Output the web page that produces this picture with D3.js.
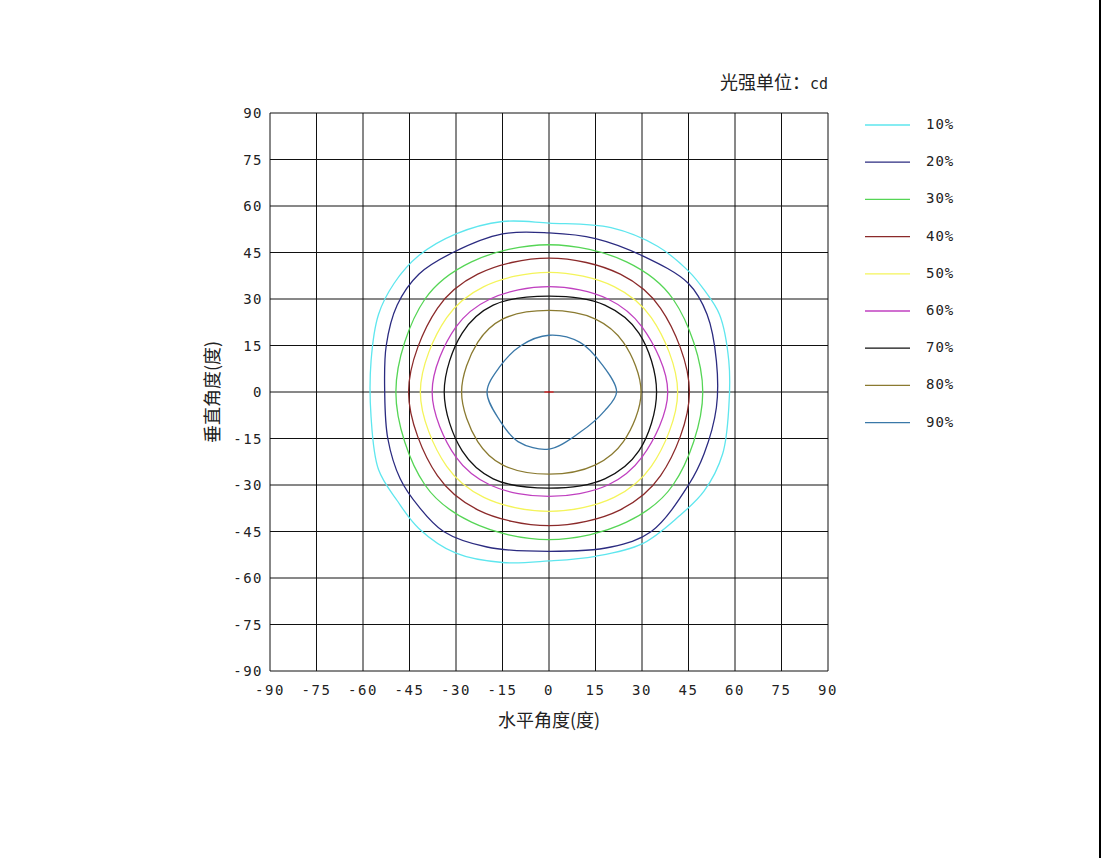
<!DOCTYPE html>
<html><head><meta charset="utf-8">
<script src="https://cdn.jsdelivr.net/npm/d3@7"></script>
<style>body{margin:0;background:#fff}text{font-family:"DejaVu Sans Mono",monospace;font-size:14px;fill:#222}</style>
</head><body><svg id="c" width="1102" height="858"></svg>
<script>
var ticks = [-90,-75,-60,-45,-30,-15,0,15,30,45,60,75,90];
var levels = ["10%","20%","30%","40%","50%","60%","70%","80%","90%"];
var colors = ["#5ee6ee","#2b2b80","#55d555","#8b2a2a","#f4f45a","#c040c0","#111111","#8a7a30","#3a78a8"];
var c10 = [[0,54.5],[-15,55],[-30,51],[-42,44],[-50,35],[-55,25],[-57.4,10],[-57.4,-8],[-55,-25],[-49,-35],[-42,-44],[-30,-52],[-15,-55],[0,-54.5],[15,-53],[30,-49],[42,-40],[50,-32],[56,-20],[58,-5],[58,10],[55,25],[50,33],[45,39],[35,47],[20,53]];
var c20 = [[0,51.3],[-15,51],[-31,45],[-42,38],[-49,28],[-52.5,15],[-53,0],[-52,-15],[-48,-28],[-42,-37],[-34,-45],[-20,-50],[0,-51.4],[20,-50],[33,-45],[45,-30],[50,-20],[54,-5],[54,10],[51,25],[45,35],[30,44],[15,49.5]];
var c30 = [[0,47.5],[25,42],[40,30],[49.6,0],[40,-30],[25,-42],[0,-47.6],[-25,-42],[-40,-30],[-49.4,0],[-40,30],[-25,42]];
var c40 = [[0,43.2],[23,38],[36,27],[45.3,0],[36,-27],[23,-38],[0,-43.1],[-23,-38],[-36,-27],[-45.3,0],[-36,27],[-23,38]];
var c50 = [[0,38.6],[21,34],[33,24],[41.5,0],[33,-24],[21,-34],[0,-38.5],[-21,-34],[-33,-24],[-41.5,0],[-33,24],[-21,34]];
var c60 = [[0,34],[19,30],[30,21],[38.3,0],[30,-21],[19,-30],[0,-33.7],[-19,-30],[-30,-21],[-37.7,0],[-30,21],[-19,30]];
var c70 = [[0,30.9],[18,28],[29,19],[34.7,0],[29,-19],[18,-28],[0,-31],[-18,-28],[-28,-19],[-33.8,0],[-28,19],[-18,28]];
var c80 = [[0,26.3],[15,23.5],[24,16],[29.7,0],[24,-16],[15,-23.5],[0,-26.5],[-15,-23.5],[-23,-16],[-28.2,0],[-23,16],[-15,23.5]];
var c90 = [[0,18.3],[10,16],[17,9],[21.8,0],[18,-6],[10,-13],[0,-18.4],[-10,-16],[-16,-9],[-20,0],[-16,8],[-9,15]];
var contours = [c10,c20,c30,c40,c50,c60,c70,c80,c90];

var svg = d3.select("#c");
var x = d3.scaleLinear().domain([-90,90]).range([270,828]);
var y = d3.scaleLinear().domain([-90,90]).range([671,113]);

svg.append("line").attr("x1",1100).attr("x2",1100).attr("y1",0).attr("y2",858).attr("stroke","#000").attr("stroke-width",2);

var g = svg.append("g");
ticks.forEach(function(t){
    g.append("line").attr("x1",x(t)).attr("x2",x(t)).attr("y1",y(-90)).attr("y2",y(90)).attr("stroke","#111");
    g.append("line").attr("y1",y(t)).attr("y2",y(t)).attr("x1",x(-90)).attr("x2",x(90)).attr("stroke","#111");
    g.append("text").attr("x",x(t)).attr("y",y(-90)+24).attr("text-anchor","middle").attr("letter-spacing","1.5").text(t);
    g.append("text").attr("x",x(-90)-7).attr("y",y(t)+5).attr("text-anchor","end").attr("letter-spacing","1.5").text(t);
});

var line = d3.line().x(function(d){return x(d[0]);}).y(function(d){return y(d[1]);}).curve(d3.curveCatmullRomClosed);
contours.forEach(function(c,i){
    svg.append("path").attr("d",line(c)).attr("fill","none").attr("stroke",colors[i]).attr("stroke-width",1.3);
});
svg.append("line").attr("x1",x(-1.5)).attr("x2",x(1.5)).attr("y1",y(0)).attr("y2",y(0)).attr("stroke","red");

levels.forEach(function(l,i){
    var yy = 124 + i*37.2;
    svg.append("line").attr("x1",865).attr("x2",910).attr("y1",yy+1).attr("y2",yy+1).attr("stroke",colors[i]).attr("stroke-width",1.3);
    svg.append("text").attr("x",926).attr("y",yy+5).attr("letter-spacing","1").text(l);
});

svg.append("text").attr("x",828).attr("y",89).attr("text-anchor","end").style("font-size","18px").html('<tspan style="font-family:\'Noto Sans CJK SC\'">光强单位：</tspan><tspan style="font-size:15px">cd</tspan>');
svg.append("text").attr("x",549).attr("y",727).attr("text-anchor","middle").style("font-size","18px").style("font-family","Noto Sans CJK SC").text("水平角度(度)");
svg.append("text").attr("transform","translate(219,392) rotate(-90)").attr("text-anchor","middle").style("font-size","18px").style("font-family","Noto Sans CJK SC").text("垂直角度(度)");
</script></body></html>
